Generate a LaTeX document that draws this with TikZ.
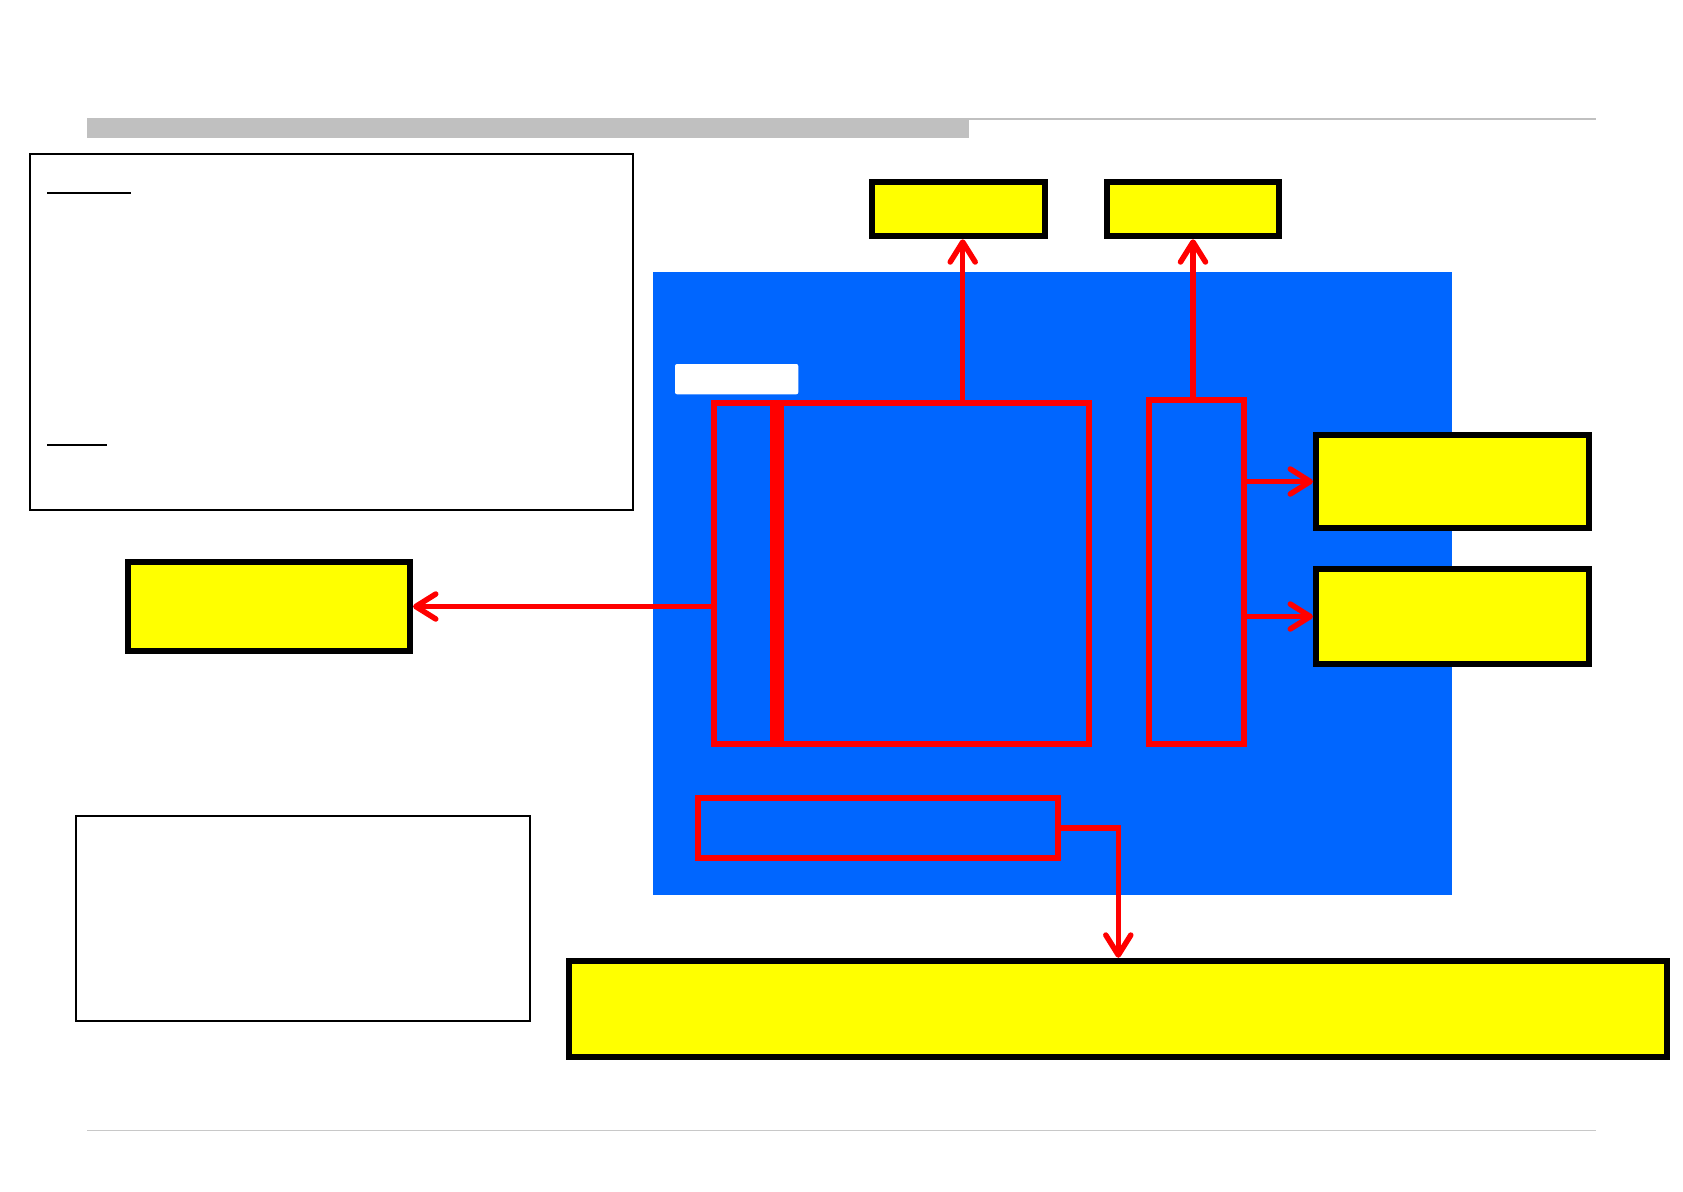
\documentclass[tikz,border=0pt]{standalone}
\usetikzlibrary{arrows.meta}
\definecolor{bluebg}{RGB}{0,102,255}
\definecolor{hdrgray}{RGB}{192,192,192}
\definecolor{rulegray}{RGB}{200,200,200}
\definecolor{yel}{RGB}{255,255,0}
\begin{document}
\begin{tikzpicture}[x=1pt,y=-1pt,
  ybox/.style={draw=black,fill=yel,line width=6pt,inner sep=0pt,rectangle},
  rbox/.style={draw=red,line width=6pt,inner sep=0pt,rectangle},
  wbox/.style={draw=black,fill=white,line width=2pt,inner sep=0pt,rectangle},
  rarrow/.style={draw=red,line width=5.5pt,-{Straight Barb[length=20pt,width=25pt,round]}},
  rline/.style={draw=red,line width=5.5pt}
]
\useasboundingbox (0,0) rectangle (1683,1191);
\fill[white] (0,0) rectangle (1683,1191);

% header and footer rules
\fill[hdrgray] (87,118) rectangle (969,138);
\draw[hdrgray,line width=2pt] (969,119) -- (1596,119);
\draw[rulegray,line width=1.5pt] (87,1130.5) -- (1596,1130.5);

% text boxes
\node[wbox,minimum width=603pt,minimum height=356pt] (legend) at (331.5,331.7) {};
\draw[black,line width=1.5pt] (47,193) -- (131,193);
\draw[black,line width=1.5pt] (47,445) -- (107,445);
\node[wbox,minimum width=454pt,minimum height=204.7pt] (note) at (303,918.35) {};

% blue board
\node[fill=bluebg,inner sep=0pt,minimum width=799.4pt,minimum height=622.9pt] (board) at (1052.3,583.05) {};
\node[fill=white,rounded corners=2pt,inner sep=0pt,minimum width=123.3pt,minimum height=30.3pt] (tag) at (736.65,379.15) {};

% red blocks
\node[rbox,minimum width=62.7pt,minimum height=341.5pt] (narrow) at (745.35,573.25) {};
\node[rbox,minimum width=312.3pt,minimum height=341.5pt] (main) at (932.85,573.25) {};
\draw[red,line width=14pt] (776.7,400) -- (776.7,746.5);
\node[rbox,minimum width=95.2pt,minimum height=344pt] (rside) at (1196.1,572) {};
\node[rbox,minimum width=360pt,minimum height=60pt] (rbot) at (878,828) {};

% yellow boxes
\node[ybox,minimum width=173.5pt,minimum height=54.5pt] (ytop1) at (958.5,209) {};
\node[ybox,minimum width=172.5pt,minimum height=54.5pt] (ytop2) at (1193,209) {};
\node[ybox,minimum width=282pt,minimum height=88.5pt] (yleft) at (269,606.5) {};
\node[ybox,minimum width=273pt,minimum height=93.5pt] (yrA) at (1452.5,481.5) {};
\node[ybox,minimum width=273pt,minimum height=94.5pt] (yrB) at (1452.5,616.5) {};
\node[ybox,minimum width=1097.7pt,minimum height=96.4pt] (ybot) at (1118.3,1009) {};

% connectors
\coordinate (a1) at (962.7,402.5);
\draw[rarrow] (a1) -- (a1 |- ytop1.south);
\draw[rarrow] (rside.north -| ytop2.south) -- (ytop2.south);
\draw[rarrow] (narrow.west |- yleft.east) -- (yleft.east);
\draw[rarrow] (rside.east |- yrA.west) -- (yrA.west);
\draw[rarrow] (rside.east |- yrB.west) -- (yrB.west);
\draw[rarrow] (rbot.east) -| (ybot.north);
\end{tikzpicture}
\end{document}
